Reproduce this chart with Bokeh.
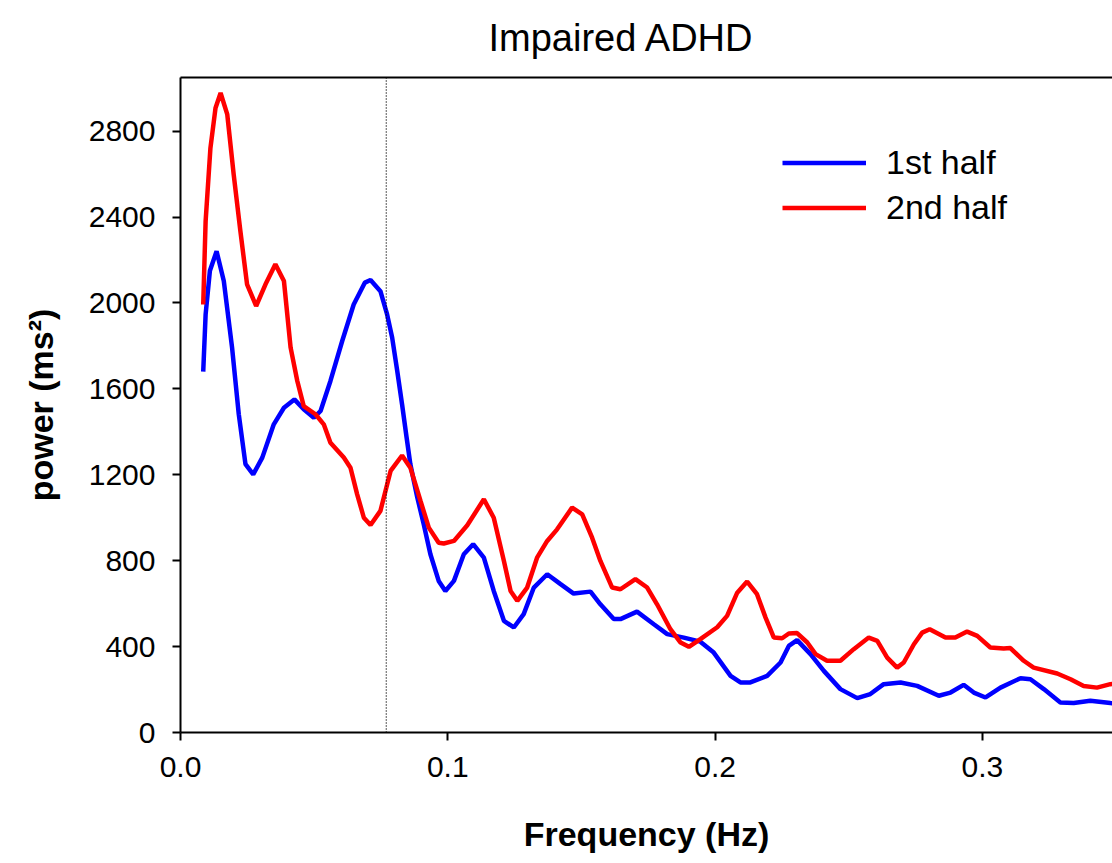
from bokeh.plotting import figure
from bokeh.models import (Range1d, LinearAxis, FixedTicker, Span, Legend, LegendItem,
                          Title, NumeralTickFormatter)
from bokeh.embed import file_html
from bokeh.resources import INLINE

# ---- data ----
freq_1st = [0.0085, 0.0094, 0.0110, 0.0135, 0.0162, 0.0193, 0.0218, 0.0243, 0.0272, 0.0306,
            0.0349, 0.0387, 0.0426, 0.0461, 0.0499, 0.0524, 0.0561, 0.0605, 0.0648, 0.0690,
            0.0711, 0.0748, 0.0773, 0.0792, 0.0811, 0.0829, 0.0846, 0.0860, 0.0886, 0.0910,
            0.0935, 0.0966, 0.0991, 0.1023, 0.1060, 0.1095, 0.1135, 0.1172, 0.1210, 0.1247,
            0.1284, 0.1322, 0.1372, 0.1422, 0.1471, 0.1534, 0.1571, 0.1621, 0.1646, 0.1708,
            0.1771, 0.1821, 0.1883, 0.1945, 0.1995, 0.2058, 0.2095, 0.2132, 0.2195, 0.2245,
            0.2276, 0.2307, 0.2357, 0.2407, 0.2469, 0.2532, 0.2581, 0.2631, 0.2694, 0.2756,
            0.2837, 0.2881, 0.2930, 0.2968, 0.3012, 0.3068, 0.3143, 0.3180, 0.3230, 0.3292,
            0.3342, 0.3404, 0.3479, 0.3495]
power_1st = [1680, 1947, 2150, 2241, 2102, 1792, 1482, 1250, 1202, 1280,
             1435, 1512, 1551, 1505, 1466, 1497, 1637, 1823, 1993, 2095,
             2107, 2055, 1947, 1838, 1683, 1528, 1373, 1249, 1094, 970,
             830, 706, 659, 706, 830, 877, 814, 659, 520, 489,
             551, 675, 737, 691, 647, 656, 597, 528, 528, 563,
             504, 458, 442, 423, 372, 264, 233, 233, 264, 326,
             403, 430, 365, 287, 202, 160, 179, 225, 233, 217,
             171, 186, 222, 186, 163, 209, 253, 248, 202, 140,
             137, 148, 137, 136]

freq_2nd = [0.0085, 0.0094, 0.0112, 0.0131, 0.0150, 0.0175, 0.0199, 0.0224, 0.0249, 0.0283,
            0.0318, 0.0355, 0.0387, 0.0412, 0.0437, 0.0461, 0.0505, 0.0536, 0.0561, 0.0611,
            0.0636, 0.0661, 0.0686, 0.0711, 0.0748, 0.0786, 0.0829, 0.0860, 0.0898, 0.0929,
            0.0966, 0.0985, 0.1023, 0.1073, 0.1135, 0.1172, 0.1210, 0.1235, 0.1260, 0.1297,
            0.1334, 0.1372, 0.1409, 0.1465, 0.1503, 0.1540, 0.1571, 0.1615, 0.1646, 0.1702,
            0.1746, 0.1783, 0.1833, 0.1871, 0.1902, 0.1945, 0.2008, 0.2045, 0.2083, 0.2120,
            0.2157, 0.2189, 0.2220, 0.2251, 0.2276, 0.2307, 0.2345, 0.2376, 0.2419, 0.2469,
            0.2519, 0.2575, 0.2607, 0.2644, 0.2681, 0.2706, 0.2744, 0.2775, 0.2803, 0.2862,
            0.2899, 0.2943, 0.2981, 0.3030, 0.3080, 0.3105, 0.3155, 0.3192, 0.3280, 0.3330,
            0.3379, 0.3429, 0.3479, 0.3495]
power_2nd = [1993, 2381, 2722, 2908, 2978, 2878, 2598, 2335, 2087, 1986,
             2087, 2180, 2102, 1792, 1637, 1520, 1482, 1435, 1349, 1280,
             1233, 1109, 1000, 966, 1032, 1218, 1290, 1233, 1078, 954,
             884, 880, 892, 965, 1086, 1000, 799, 659, 613, 675,
             814, 892, 946, 1047, 1016, 907, 799, 675, 667, 714,
             675, 597, 481, 419, 399, 435, 490, 543, 651, 703,
             644, 535, 442, 439, 461, 463, 419, 365, 334, 334,
             388, 442, 427, 349, 302, 326, 411, 465, 481, 442,
             442, 470, 450, 396, 391, 393, 334, 302, 275, 248,
             217, 209, 225, 228]

x_ticks = [0.0, 0.1, 0.2, 0.3]
y_ticks = [0, 400, 800, 1200, 1600, 2000, 2400, 2800]
boundary_freq = 0.077
series_labels = ["1st half", "2nd half"]
title_text = "Impaired ADHD"

FONT = "Liberation Sans"

p = figure(width=1112, height=863, output_backend="svg", toolbar_location=None,
           x_range=Range1d(0, 0.3487), y_range=Range1d(0, 3050),
           min_border_left=180, min_border_right=0, min_border_top=76,
           min_border_bottom=131, background_fill_color="white",
           border_fill_color="white")
p.outline_line_color = None
p.xgrid.grid_line_color = None
p.ygrid.grid_line_color = None

p.title = Title(text=title_text, align="left", offset=308, vertical_align="top",
                text_font=FONT, text_font_size="38px", text_font_style="normal",
                text_color="black", standoff=33)

for ax in (p.xaxis[0], p.yaxis[0]):
    ax.axis_line_width = 2
    ax.axis_line_color = "black"
    ax.major_tick_line_width = 2
    ax.major_tick_line_color = "black"
    ax.major_tick_out = 8
    ax.major_tick_in = 0
    ax.minor_tick_line_color = None
    ax.major_label_text_font = FONT
    ax.major_label_text_font_size = "30px"
    ax.major_label_text_color = "black"
    ax.axis_label_text_font = FONT
    ax.axis_label_text_font_size = "34px"
    ax.axis_label_text_font_style = "bold"
    ax.axis_label_text_color = "black"

p.xaxis.ticker = FixedTicker(ticks=x_ticks)
p.xaxis.formatter = NumeralTickFormatter(format="0.0")
p.xaxis.axis_label = "Frequency (Hz)"
p.xaxis.major_label_standoff = 16
p.xaxis.axis_label_standoff = 35
p.yaxis.ticker = FixedTicker(ticks=y_ticks)
p.yaxis.axis_label = "power (ms²)"
p.yaxis.major_label_standoff = 17
p.yaxis.axis_label_standoff = 26

top_axis = LinearAxis(ticker=FixedTicker(ticks=[]), axis_line_width=2, axis_line_color="black",
                      major_tick_line_color=None, minor_tick_line_color=None,
                      major_label_text_font_size="0px")
p.add_layout(top_axis, "above")

p.add_layout(Span(location=boundary_freq, dimension="height", line_color="black",
                  line_width=1.3, line_dash="1 2"))

r1 = p.line(freq_1st, power_1st, line_color="#0000FF", line_width=4.5)
r2 = p.line(freq_2nd, power_2nd, line_color="#FF0000", line_width=4.5)

legend = Legend(items=[LegendItem(label=series_labels[0], renderers=[r1]),
                       LegendItem(label=series_labels[1], renderers=[r2])],
                location=(602, 502), border_line_color=None, background_fill_alpha=0,
                glyph_width=84, glyph_height=45, label_height=45, spacing=0,
                padding=5, margin=0, label_standoff=20,
                label_text_font=FONT, label_text_font_size="34px", label_text_color="black")
p.add_layout(legend)

open("out.html", "w").write(file_html(p, INLINE))
